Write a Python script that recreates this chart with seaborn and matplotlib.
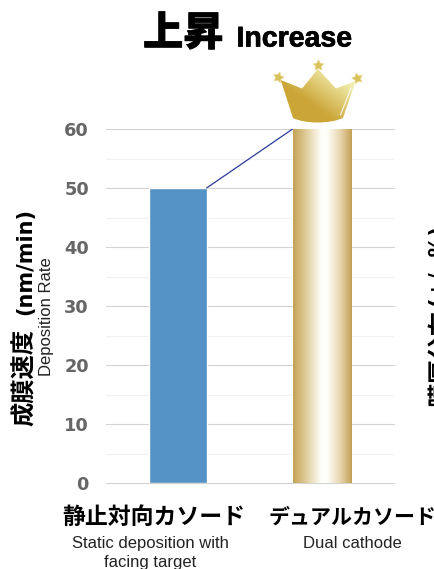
import numpy as np
import pandas as pd
import matplotlib
matplotlib.use("Agg")
import matplotlib.pyplot as plt
import matplotlib.patheffects as pe
from matplotlib.path import Path
from matplotlib.patches import PathPatch
import seaborn as sns

categories = ["静止対向カソード", "デュアルカソード"]
categories_en = ["Static deposition with\nfacing target", "Dual cathode"]
rates = [50, 60]
major_ticks = [0, 10, 20, 30, 40, 50, 60]
minor_ticks = [5, 15, 25, 35, 45, 55]

W, H = 435, 569
JP = ["Noto Sans CJK JP", "DejaVu Sans"]
sns.set_theme(style="white")
fig = plt.figure(figsize=(W / 100, H / 100), dpi=100)
ax = fig.add_axes([105.6 / W, 1 - 483 / H, 288 / W, 354 / H])

df = pd.DataFrame({"cat": categories, "rate": rates})
sns.barplot(data=df, x="cat", y="rate", ax=ax, width=0.403, color="#5592C6",
            saturation=1, zorder=3)
ax.set_xlim(-0.5, 1.5)
ax.set_ylim(0, 60)
ax.set_xlabel("")
ax.set_ylabel("")
ax.set_xticks([])
for s in ax.spines.values():
    s.set_visible(False)
ax.set_yticks(major_ticks)
ax.set_yticklabels([str(t) for t in major_ticks], fontsize=12.8, fontweight="bold",
                   color="#666666", family="DejaVu Sans")
ax.tick_params(axis="y", length=0, pad=12)
ax.grid(False)
for t in major_ticks:
    ax.axhline(t, color="#D2D2D2", lw=0.8, zorder=1, clip_on=False)
for t in minor_ticks:
    ax.axhline(t, color="#F1F1F1", lw=0.8, zorder=1)

# gold gradient on the second bar
gold = ax.patches[1]
x0, w = gold.get_x(), gold.get_width()
stops = np.array([0.0, 0.2, 0.48, 0.58, 0.8, 1.0])
cols = np.array([[197, 163, 85], [220, 200, 148], [255, 255, 250], [255, 255, 250],
                 [232, 214, 175], [195, 160, 85]], float) / 255
xs = np.linspace(0, 1, 200)
img = np.stack([np.interp(xs, stops, cols[:, i]) for i in range(3)], axis=-1)[None, :, :]
ax.imshow(img, extent=[x0, x0 + w, 0, rates[1]], aspect="auto", zorder=4)
ax.set_xlim(-0.5, 1.5)
ax.set_ylim(0, 60)

# connector between bar tops
blue = ax.patches[0]
ax.plot([blue.get_x() + blue.get_width(), x0], rates, color="#2A3A9C", lw=0.9, zorder=5)

# overlay in pixel coordinates for the crown and the text
ov = fig.add_axes([0, 0, 1, 1], zorder=10)
ov.axis("off")
ov.patch.set_alpha(0)

def gradient_fill(path, box, c0, c1):
    x0_, x1_, y0_, y1_ = box
    yy, xx = np.mgrid[0:1:80j, 0:1:80j]
    t = (xx + (1 - yy)) / 2
    t = np.clip((t - 0.38) / 0.45, 0, 1)[..., None]
    im = ov.imshow(np.asarray(c0) * (1 - t) + np.asarray(c1) * t,
                   extent=[x0_, x1_, y1_, y0_], aspect="auto", zorder=2)
    patch = PathPatch(path, transform=ov.transData, fc="none", ec="none")
    ov.add_patch(patch)
    im.set_clip_path(patch)

DARK = np.array([203, 165, 55]) / 255
LIGHT = np.array([243, 238, 175]) / 255
ov.set_xlim(0, W)
ov.set_ylim(H, 0)
crown = Path([(280.7, 80), (302, 88.5), (318, 69), (336, 88.5), (355.7, 81), (343, 118),
              (330, 124), (305, 124), (293, 118), (280.7, 80)],
             [Path.MOVETO, Path.LINETO, Path.LINETO, Path.LINETO, Path.LINETO, Path.LINETO,
              Path.CURVE4, Path.CURVE4, Path.CURVE4, Path.CLOSEPOLY])
gradient_fill(crown, (280, 356, 68, 124), DARK, LIGHT)
ov.plot([340.5, 351], [115, 88], color="white", lw=0.8, alpha=0.85, zorder=3,
        solid_capstyle="round")
ov.set_xlim(0, W)
ov.set_ylim(H, 0)
for sx, sy, rot in [(278, 77, -15), (318, 65, 0), (357, 77.5, 15)]:
    ov.scatter([sx], [sy], marker=(5, 1, rot), s=70, color="#D9C25A", ec="#E8DC98",
               lw=0.4, zorder=4)

heavy = [pe.withStroke(linewidth=0.5, foreground="black")]

# titles
ov.text(143, 33.5, "上昇", family=JP, fontsize=29, fontweight="black", color="black",
        ha="left", va="center", path_effects=heavy)
ov.text(236.5, 39.5, "Increase", family="Liberation Sans", fontsize=20.5, fontweight="bold",
        color="black", ha="left", va="center", path_effects=heavy)

# y axis titles
ov.text(25, 377, "成膜速度", family=JP, fontsize=17.5, fontweight="bold", color="black",
        rotation=90, ha="center", va="center")
ov.text(25, 261, "(nm/min)", family="DejaVu Sans", fontsize=15, fontweight="bold",
        color="black", rotation=90, ha="center", va="center")
ov.text(47, 317, "Deposition Rate", family="Liberation Sans", fontsize=12,
        color="#222222", rotation=90, ha="center", va="center")

# category labels
for cx, size, jp in zip([153.5, 352.5], [16.5, 15.1], categories):
    ov.text(cx, 517, jp, family=JP, fontsize=size, fontweight="bold", color="black",
            ha="center", va="center")
for cx, en in zip([150.5, 352.5], categories_en):
    ov.text(cx, 536, en, family="Liberation Sans", fontsize=12,
            color="#222222", ha="center", va="top", linespacing=1.33)

# neighbouring chart's axis title, cut by the edge
ov.text(429, 358.5, "膜厚分布", family=JP, fontsize=17.5, fontweight="bold", color="black",
        rotation=90, ha="left", va="center")
ov.text(429, 266, "(+/- %)", family="DejaVu Sans", fontsize=15, fontweight="bold",
        color="black", rotation=90, ha="left", va="center")

fig.savefig("out.png", dpi=100)
